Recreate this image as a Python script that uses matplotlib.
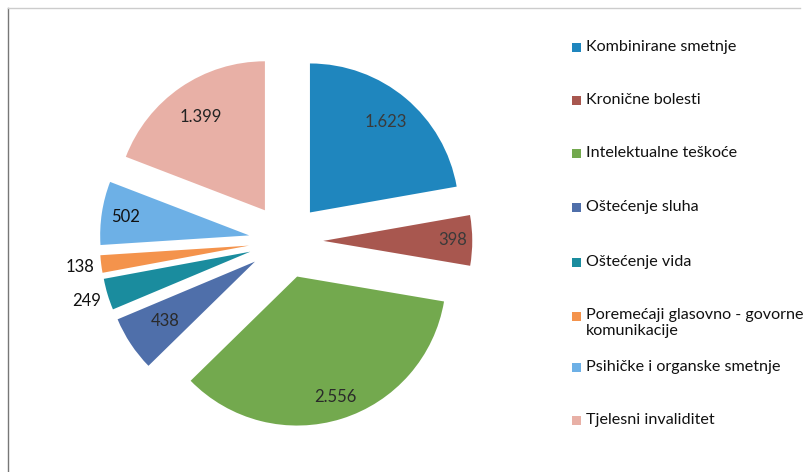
import numpy as np
import matplotlib
matplotlib.use("Agg")
import matplotlib.pyplot as plt
from matplotlib.patches import Rectangle
from matplotlib.lines import Line2D

categories = ["Kombinirane smetnje", "Kronične bolesti", "Intelektualne teškoće",
              "Oštećenje sluha", "Oštećenje vida",
              "Poremećaji glasovno - govorne\nkomunikacije",
              "Psihičke i organske smetnje", "Tjelesni invaliditet"]
values = [1623, 398, 2556, 438, 249, 138, 502, 1399]
value_labels = ["1.623", "398", "2.556", "438", "249", "138", "502", "1.399"]

colors = ["#1F86BE", "#A8574F", "#73A94E", "#4F6FAA", "#1A8C9E", "#F4934C", "#6DB0E6", "#E8B0A6"]
label_dist = [0.79, 0.87, 0.85, 0.72, 1.15, 1.14, 0.84, 0.76]
label_colors = ["#3a3a3a", "#3a3a3a", "#2a2a2a", "#2a2a2a", "#111111", "#111111", "#111111", "#222222"]

plt.rcParams['font.family'] = ['Lato', 'DejaVu Sans']

W, H = 810, 472
fig = plt.figure(figsize=(W / 100, H / 100), dpi=100)

cx, cy, half = 286, 241, 200
ax = fig.add_axes([(cx - half) / W, (H - cy - half) / H, 2 * half / W, 2 * half / H])
explode = [0.25] * len(values)
wedges, _ = ax.pie(values, colors=colors, startangle=90, counterclock=False,
                   explode=explode, radius=1.0, wedgeprops=dict(linewidth=0))
lim = half / 149
ax.set_xlim(-lim, lim)
ax.set_ylim(-lim, lim)
ax.set_aspect('equal')
ax.axis('off')

for w, lab, d, c in zip(wedges, value_labels, label_dist, label_colors):
    mid = np.deg2rad((w.theta1 + w.theta2) / 2)
    ox, oy = w.center
    ax.text(ox + d * np.cos(mid), oy + d * np.sin(mid), lab, ha='center', va='center',
            fontsize=12, color=c)

# legend (manual, Excel-like spacing)
ys = [47, 100, 153, 207, 262, 316, 367, 420]
for cat, col, y in zip(categories, colors, ys):
    fig.patches.append(Rectangle((572 / W, (H - y - 4.5) / H), 9 / W, 9 / H,
                                 transform=fig.transFigure, facecolor=col, edgecolor='none'))
    if '\n' in cat:
        fig.text(586 / W, (H - y + 8.5) / H, cat, ha='left', va='top',
                 fontsize=11.6, color='#111111', linespacing=1.2)
    else:
        fig.text(586 / W, (H - y) / H, cat, ha='left', va='center',
                 fontsize=11.6, color='#111111')

# frame lines
fig.add_artist(Line2D([8 / W, 8 / W], [0, (H - 8) / H], transform=fig.transFigure,
                      color='#777777', linewidth=1))
fig.add_artist(Line2D([8 / W, 800 / W], [(H - 8) / H, (H - 8) / H], transform=fig.transFigure,
                      color='#cccccc', linewidth=1))

fig.savefig("out.png", dpi=100)
